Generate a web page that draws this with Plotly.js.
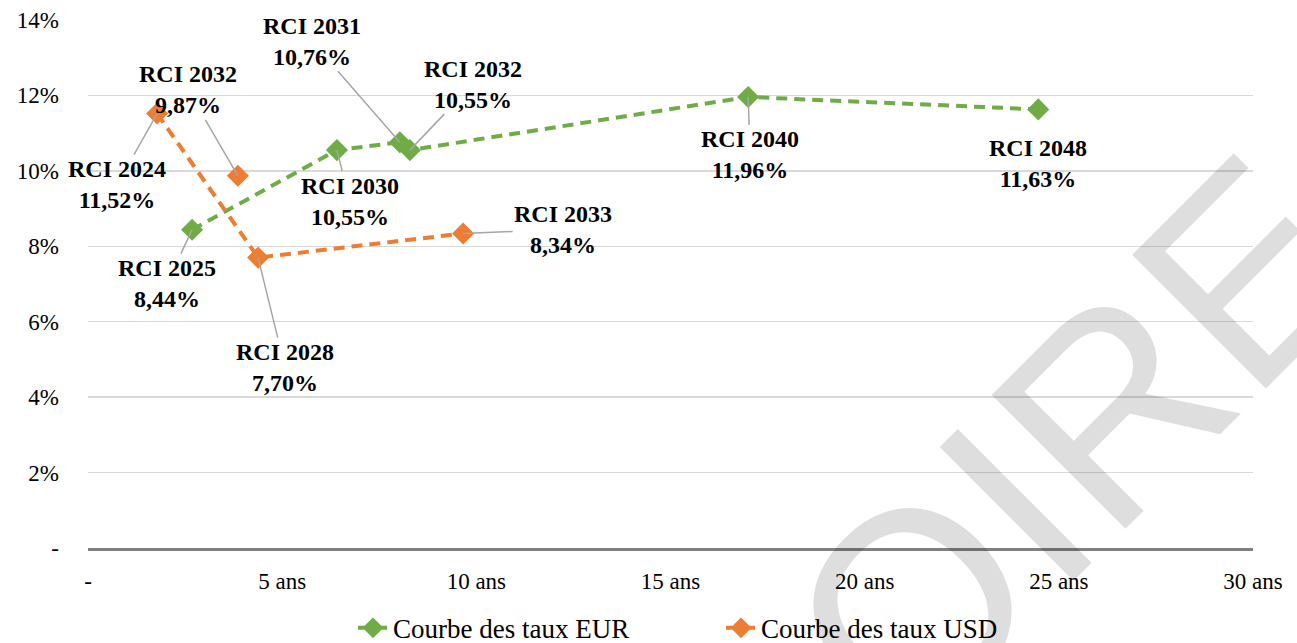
<!DOCTYPE html>
<html>
<head>
<meta charset="utf-8">
<script src="https://cdn.plot.ly/plotly-3.0.1.min.js"></script>
<style>
  html, body { margin: 0; padding: 0; background: #ffffff; }
  #chart { width: 1297px; height: 643px; }
</style>
</head>
<body>
<div id="chart"></div>
<script>
// ---- Data ----
var eurNames = ['RCI 2025', 'RCI 2030', 'RCI 2031', 'RCI 2032', 'RCI 2040', 'RCI 2048'];
var eurMaturity = [2.68, 6.41, 8.03, 8.29, 17.0, 24.47];   // years
var eurRate = [8.44, 10.55, 10.76, 10.55, 11.96, 11.63];     // %

var usdNames = ['RCI 2024', 'RCI 2028', 'RCI 2033', 'RCI 2032'];
var usdMaturity = [1.78, 4.38, 9.66, 3.86];                  // years
var usdRate = [11.52, 7.70, 8.34, 9.87];                     // %
var usdOnCurve = [true, true, true, false];                  // last point is not joined by the curve

var seriesNames = ['Courbe des taux EUR', 'Courbe des taux USD'];
var xTickVals = [0, 5, 10, 15, 20, 25, 30];
var xTickText = ['-', '5 ans', '10 ans', '15 ans', '20 ans', '25 ans', '30 ans'];
var yTickVals = [0, 2, 4, 6, 8, 10, 12, 14];
var yTickText = ['-', '2%', '4%', '6%', '8%', '10%', '12%', '14%'];
var watermarkText = 'PROVISOIRE';

// ---- Styling / label placement (pixel offsets of labels from their points) ----
var eurLabelOffsets = [[-25, 54], [13, 51], [-88, -101], [63, -66], [2, 58], [0, 54]];
var eurLabelArrow = [true, true, true, true, true, false];
var usdLabelOffsets = [[-40, 71], [27, 110], [100, -4], [-50, -86]];
var usdLabelArrow = [true, true, true, true];

var GREEN = '#6FAC46';
var ORANGE = '#ED7D31';
var SERIF = 'Liberation Serif';

function fmtPct(v) { return v.toFixed(2).replace('.', ',') + '%'; }

var usdLineX = [], usdLineY = [], usdLoneX = [], usdLoneY = [];
for (var i = 0; i < usdMaturity.length; i++) {
  if (usdOnCurve[i]) { usdLineX.push(usdMaturity[i]); usdLineY.push(usdRate[i]); }
  else { usdLoneX.push(usdMaturity[i]); usdLoneY.push(usdRate[i]); }
}

var traces = [
  {
    type: 'scatter', mode: 'lines+markers', name: seriesNames[0],
    x: eurMaturity, y: eurRate,
    line: { color: GREEN, width: 4, dash: '11px,7px' },
    marker: { symbol: 'diamond', size: 17, color: GREEN }
  },
  {
    type: 'scatter', mode: 'lines+markers', name: seriesNames[1],
    x: usdLineX, y: usdLineY,
    line: { color: ORANGE, width: 4, dash: '11px,7px' },
    marker: { symbol: 'diamond', size: 17, color: ORANGE }
  },
  {
    type: 'scatter', mode: 'markers', name: seriesNames[1], showlegend: false,
    x: usdLoneX, y: usdLoneY,
    marker: { symbol: 'diamond', size: 17, color: ORANGE }
  }
];

var annotations = [];
// watermark
annotations.push({
  xref: 'paper', yref: 'paper', x: 0.531, y: -0.5,
  text: watermarkText, showarrow: false, textangle: -45,
  xanchor: 'center', yanchor: 'middle',
  font: { family: 'Liberation Sans', size: 275, color: 'rgba(0,0,0,0.13)' }
});

function addLabels(names, xs, ys, offsets, arrows) {
  for (var i = 0; i < names.length; i++) {
    annotations.push({
      x: xs[i], y: ys[i], xref: 'x', yref: 'y',
      text: '<b>' + names[i] + '<br>' + fmtPct(ys[i]) + '</b>',
      showarrow: true, arrowhead: 0, arrowwidth: 1.5,
      arrowcolor: arrows[i] ? '#a6a6a6' : 'rgba(0,0,0,0)',
      ax: offsets[i][0], ay: offsets[i][1],
      align: 'center',
      font: { family: SERIF, size: 24, color: '#000000' }
    });
  }
}
addLabels(eurNames, eurMaturity, eurRate, eurLabelOffsets, eurLabelArrow);
addLabels(usdNames, usdMaturity, usdRate, usdLabelOffsets, usdLabelArrow);

var layout = {
  width: 1297, height: 643,
  margin: { l: 88, r: 44, t: 20, b: 95, autoexpand: false },
  paper_bgcolor: '#ffffff', plot_bgcolor: '#ffffff',
  font: { family: SERIF, size: 23, color: '#000000' },
  showlegend: true,
  legend: {
    orientation: 'h', x: 0.2275, xanchor: 'left', y: -0.152, yanchor: 'middle',
    entrywidth: 323, entrywidthmode: 'pixels',
    font: { family: SERIF, size: 27, color: '#000000' },
    bgcolor: 'rgba(0,0,0,0)'
  },
  xaxis: {
    range: [0, 30], tickvals: xTickVals, ticktext: xTickText,
    showgrid: false, zeroline: false,
    showline: true, linecolor: '#808080', linewidth: 3,
    ticks: '', ticklabelstandoff: 10,
    tickfont: { family: SERIF, size: 23, color: '#000000' }
  },
  yaxis: {
    range: [0, 14], tickvals: yTickVals, ticktext: yTickText,
    showgrid: true, gridcolor: '#d9d9d9', gridwidth: 1.5,
    zeroline: false, showline: false,
    ticks: '', ticklabelstandoff: 28,
    tickfont: { family: SERIF, size: 23, color: '#000000' }
  },
  annotations: annotations
};

Plotly.newPlot('chart', traces, layout, { displayModeBar: false, staticPlot: true });
</script>
</body>
</html>
